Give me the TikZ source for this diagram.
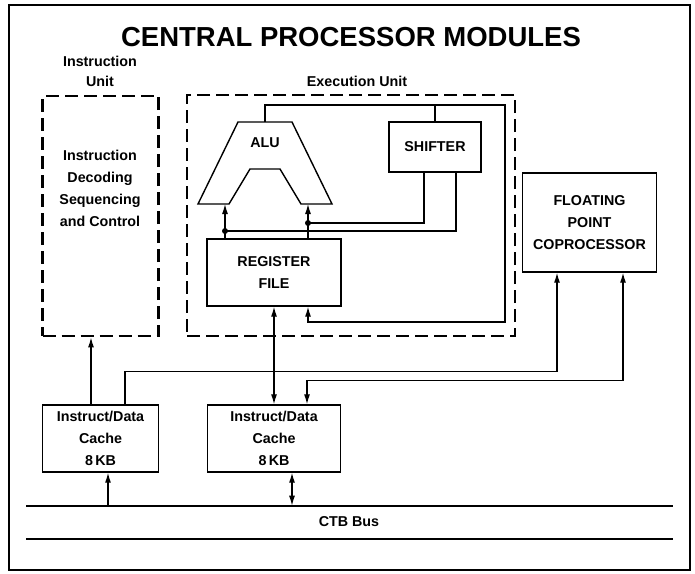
\documentclass[tikz,border=0pt]{standalone}
\usepackage{fontspec}
\setmainfont{Liberation Sans}
\usetikzlibrary{arrows.meta}

\newcommand{\blockfont}{\bfseries\fontsize{14.3}{22}\selectfont}

\begin{document}
\begin{tikzpicture}[x=1pt,y=-1pt,line width=1.2pt,
    >={Latex[length=10pt,width=6pt]},
    blk/.style={draw,line width=1.4pt,align=center,font=\blockfont},
    txt/.style={align=center,font=\blockfont},
    unitbox/.style={draw,line width=2.8pt,dash pattern=on 13pt off 6pt}]
        \useasboundingbox (0,0) rectangle (695,573);

        % рамка и заголовок
        \draw[line width=1.8pt] (9,5) rectangle (690,570);
        \node[font=\bfseries\fontsize{27.5}{30}\selectfont] (title) at (351,37) {CENTRAL PROCESSOR MODULES};

        % устройства
        \node[unitbox,minimum width=116pt,minimum height=240pt] (iu) at (100.5,216) {};
        \node[unitbox,minimum width=328pt,minimum height=241pt] (eu) at (351,215.5) {};
        \node[txt,font=\bfseries\fontsize{14.3}{19.5}\selectfont] (iuname) at (100,71.5) {Instruction\\Unit};
        \node[txt] (euname) at (357,81) {Execution Unit};
        \node[txt] (iutext) at (100,188) {Instruction\\Decoding\\Sequencing\\and Control};

        % АЛУ
        \draw[line width=1.4pt] (238,122) -- (292,122) -- (332,204) -- (301,204) -- (280,169)
            -- (250,169) -- (229,204) -- (198,204) -- cycle;
        \node[txt] (alu) at (265,143) {ALU};
        \coordinate (alutop) at (265,122);
        \coordinate (aluinl) at (225,204);
        \coordinate (aluinr) at (308,204);

        % блоки
        \node[blk,minimum width=92pt,minimum height=50pt] (sh) at (435,147) {SHIFTER};
        \node[blk,minimum width=134pt,minimum height=67pt] (rf) at (274,272.5) {REGISTER\\FILE};
        \node[blk,minimum width=134pt,minimum height=99pt] (fp) at (589.5,222.5) {FLOATING\\POINT\\COPROCESSOR};
        \node[blk,minimum width=116pt,minimum height=67pt] (ca) at (100.5,438.5) {Instruct/Data\\Cache\\8\,KB};
        \node[blk,minimum width=133pt,minimum height=67pt] (cb) at (274,438.5) {Instruct/Data\\Cache\\8\,KB};

        % связи внутри исполнительного устройства
        \coordinate (dotl) at (225,231);
        \coordinate (dotr) at (308,223);
        \coordinate (loopne) at (505,105);
        \coordinate (loopse) at (505,322);
        \draw[->] (rf.north -| aluinl) -- (aluinl);
        \draw[->] (rf.north -| aluinr) -- (aluinr);
        \draw (dotl) -| ([xshift=21pt]sh.south);
        \draw (dotr) -| ([xshift=-11pt]sh.south);
        \fill (dotl) circle (3pt);
        \fill (dotr) circle (3pt);
        \draw[->] (alutop) |- (loopne) -- (loopse) -| ([xshift=34pt]rf.south);
        \draw (sh.north) -- (sh.north |- loopne);

        % связи с кэшами
        \draw[<->] (rf.south) -- (cb.north);
        \draw[->] ([xshift=-9.5pt]ca.north) -- ([xshift=-9.5pt]iu.south);
        \draw[->] ([xshift=24.5pt]ca.north) -- ++(0,-33) -| ([xshift=-32.5pt]fp.south);
        \draw[<->] ([xshift=33.5pt]fp.south) -- ++(0,108) -| ([xshift=33pt]cb.north);

        % шина
        \coordinate (busnw) at (26,506);
        \coordinate (busne) at (673,506);
        \coordinate (bussw) at (26,539);
        \coordinate (busse) at (673,539);
        \draw[line width=1.4pt] (busnw) -- (busne);
        \draw[line width=1.4pt] (bussw) -- (busse);
        \node[txt] (bus) at (349,522) {CTB Bus};
        \draw[<-] ([xshift=7.5pt]ca.south) -- ++(0,33);
        \draw[<->] ([xshift=18pt]cb.south) -- ++(0,33);
    \end{tikzpicture}
\end{document}
